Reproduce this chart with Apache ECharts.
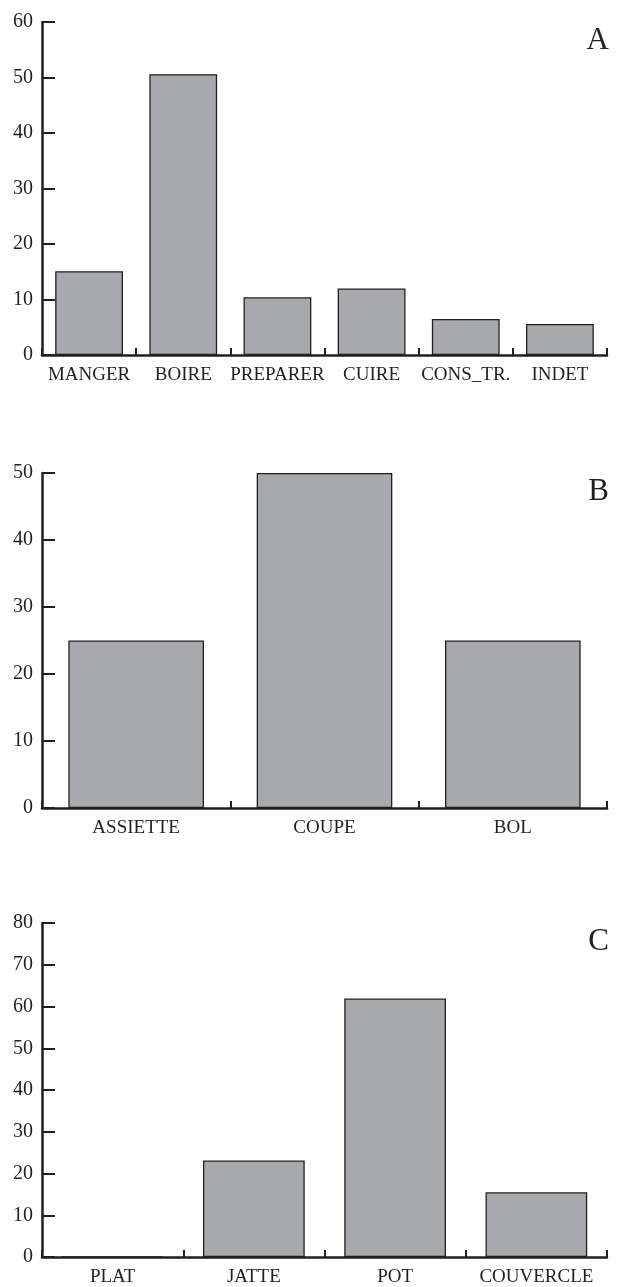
<!DOCTYPE html>
<html>
<head>
<meta charset="utf-8">
<script src="https://cdn.jsdelivr.net/npm/echarts@6/dist/echarts.min.js"></script>
<style>
  html, body { margin: 0; padding: 0; background: #fff; }
  #chart { width: 617px; height: 1287px; }
</style>
</head>
<body>
<div id="chart"></div>
<script>
// panel A : fonction
const catsA = ['MANGER', 'BOIRE', 'PREPARER', 'CUIRE', 'CONS_TR.', 'INDET']
const valsA = [15.1, 50.6, 10.4, 12.0, 6.5, 5.6]
// panel B : formes ouvertes
const catsB = ['ASSIETTE', 'COUPE', 'BOL']
const valsB = [25, 50, 25]
// panel C : formes fermees
const catsC = ['PLAT', 'JATTE', 'POT', 'COUVERCLE']
const valsC = [0, 23.1, 61.9, 15.5]
const yMax = [60, 50, 80]
const letters = ['A', 'B', 'C']

const ink = '#231f20'
const font = 'Liberation Serif'

const grids = [
  { left: 42, right: 10, top: 22, height: 333 },
  { left: 42, right: 10, top: 473, height: 335 },
  { left: 42, right: 10, top: 923, height: 336 }
]

const cats = [catsA, catsB, catsC]
const vals = [valsA, valsB, valsC]

const chart = echarts.init(document.getElementById('chart'))

chart.setOption({
  animation: false,
  backgroundColor: '#fff',
  grid: grids,
  title: letters.map((t, i) => ({
    text: t,
    right: 3,
    top: grids[i].top - 2,
    textStyle: { fontFamily: font, fontSize: 31, fontWeight: 'normal', color: ink }
  })),
  xAxis: cats.map((c, i) => ({
    type: 'category',
    gridIndex: i,
    data: c,
    axisLine: { lineStyle: { color: ink, width: 2.5 } },
    axisTick: { show: true, alignWithLabel: false, interval: 0, inside: true, length: 7, lineStyle: { color: ink, width: 2 } },
    axisLabel: { fontFamily: font, fontSize: 19, color: ink, margin: 11, interval: 0 }
  })),
  yAxis: yMax.map((m, i) => ({
    type: 'value',
    gridIndex: i,
    min: 0,
    max: m,
    interval: 10,
    splitLine: { show: false },
    axisLine: { show: true, lineStyle: { color: ink, width: 2.5 } },
    axisTick: { show: true, inside: true, length: 13, lineStyle: { color: ink, width: 2 } },
    axisLabel: { fontFamily: font, fontSize: 20, color: ink, margin: 9 }
  })),
  series: vals.map((v, i) => ({
    type: 'bar',
    xAxisIndex: i,
    yAxisIndex: i,
    data: v,
    barCategoryGap: '28%',
    itemStyle: { color: '#a7a9ac', borderColor: ink, borderWidth: 1.3 }
  }))
})
</script>
</body>
</html>
